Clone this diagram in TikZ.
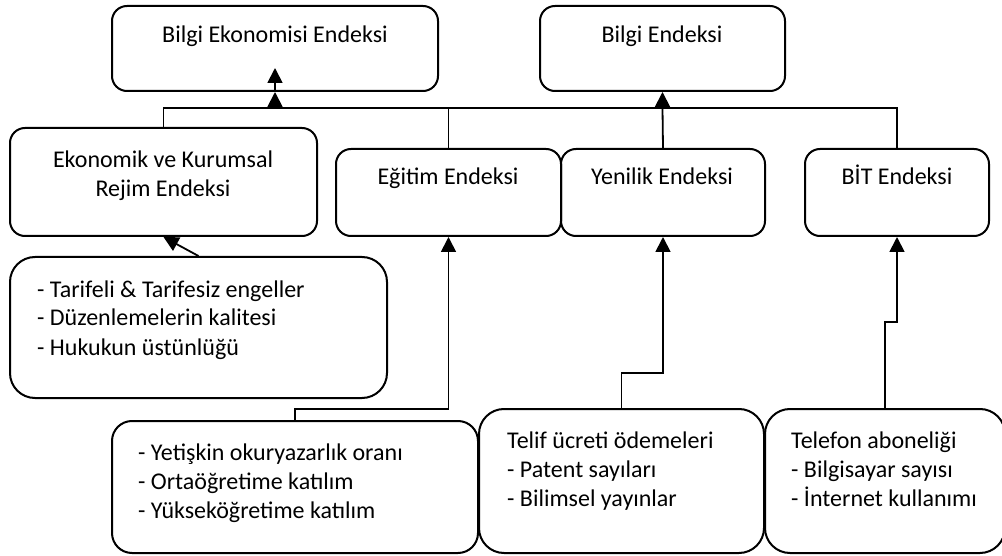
\documentclass[tikz,border=0pt]{standalone}
\usepackage{fontspec}
\setmainfont{Carlito}
\usetikzlibrary{arrows.meta}
\begin{document}
\begin{tikzpicture}[x=1pt,y=-1pt,
  box/.style={draw=black,line width=2pt,rounded corners=#1,inner sep=0pt},
  box/.default=15pt,
  conn/.style={line width=1.8pt},
  arr/.style={line width=1.8pt,-{Triangle[length=15pt,width=15pt]}},
  txt/.style={font=\fontsize{24pt}{29pt}\selectfont,inner sep=0pt,align=center,anchor=base},
  ltxt/.style={font=\fontsize{24pt}{29pt}\selectfont,inner sep=0pt,align=left,anchor=base west}]
\useasboundingbox (0,0) rectangle (1002,556);
% boxes
\node[box,minimum width=326pt,minimum height=85pt] (A) at (275,48.5) {};
\node[box,minimum width=245pt,minimum height=85pt] (B) at (662.5,48.5) {};
\node[box,minimum width=307pt,minimum height=108pt] (C) at (163.5,182) {};
\node[box,minimum width=225pt,minimum height=87pt] (D) at (448.5,192.5) {};
\node[box,minimum width=204pt,minimum height=87pt] (E) at (663,192.5) {};
\node[box,minimum width=184pt,minimum height=87pt] (F) at (897,192.5) {};
\node[box=25pt,minimum width=377pt,minimum height=141pt] (G) at (198.5,327.5) {};
\node[box=20pt,minimum width=366pt,minimum height=132pt] (H) at (295,487) {};
\node[box=25pt,minimum width=285pt,minimum height=144pt] (I) at (621.5,481) {};
\node[box=25pt,minimum width=240pt,minimum height=144pt] (J) at (885,481) {};
% texts (multi-line nodes are placed by the baseline of their last line)
\node[txt] (tA) at (275,43) {Bilgi Ekonomisi Endeksi};
\node[txt] (tB) at (662,43) {Bilgi Endeksi};
\node[txt] (tC) at (163,197) {Ekonomik ve Kurumsal\\Rejim Endeksi};
\node[txt] (tD) at (448,185) {Eğitim Endeksi};
\node[txt] (tE) at (662,185) {Yenilik Endeksi};
\node[txt] (tF) at (897,185) {BİT Endeksi};
\node[ltxt] (tG) at (37,355) {- Tarifeli \& Tarifesiz engeller\\- Düzenlemelerin kalitesi\\- Hukukun üstünlüğü};
\node[ltxt] (tH) at (138,518) {- Yetişkin okuryazarlık oranı\\- Ortaöğretime katılım\\- Yükseköğretime katılım};
\node[ltxt] (tI) at (507,506) {Telif ücreti ödemeleri\\- Patent sayıları\\- Bilimsel yayınlar};
\node[ltxt] (tJ) at (791,506) {Telefon aboneliği\\- Bilgisayar sayısı\\- İnternet kullanımı};
% coordinates
\coordinate (bl) at (163.5,108);
\coordinate (ba) at (275,108);
\coordinate (bd) at (448.5,108);
\coordinate (bb) at (662.5,108);
\coordinate (bf) at (897,108);
\coordinate (ain) at (275,68);
\coordinate (h1) at (295,409);
\coordinate (i1) at (621.5,373);
\coordinate (j1) at (885,322);
% top connectors
\draw[conn] (C.north) -- (bl) -- (bf) -- (F.north);
\draw[conn] (bd) -- (D.north);
\draw[conn] (bb) -- (E.north);
\draw[arr] (ba) -- (A.south);
\draw[arr] (A.south) -- (ain);
\draw[arr] (bb) -- (B.south);
% bottom connectors
\draw[arr] (G.north) -- (C.south);
\draw[arr] (H.north) -- (h1) -| (D.south);
\draw[arr] (I.north) -- (i1) -| (E.south);
\draw[arr] (J.north) -- (j1) -| (F.south);
\end{tikzpicture}
\end{document}
